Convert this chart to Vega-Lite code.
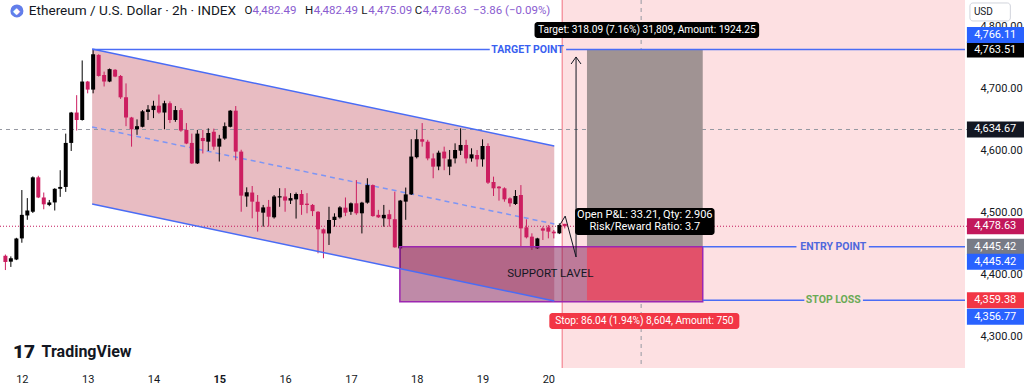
{
"$schema": "https://vega.github.io/schema/vega-lite/v6.json",
"width": 970,
"height": 368,
"autosize": {"type": "none"},
"padding": {"left": 0, "top": 0, "right": 54, "bottom": 20},
"background": "#ffffff",
"config": {"view": {"stroke": null}, "font": "Roboto", "axis": {"grid": false, "domain": false, "ticks": false, "labelColor": "#131722", "labelFontSize": 11}},
"datasets": {
"candles": [
{"t":11.75,"o":4431,"h":4433,"l":4408,"c":4421},
{"t":11.833,"o":4421.5,"h":4430,"l":4413,"c":4427},
{"t":11.917,"o":4425,"h":4460,"l":4424,"c":4459},
{"t":12.0,"o":4459,"h":4537,"l":4452,"c":4497},
{"t":12.083,"o":4496,"h":4524,"l":4489,"c":4504},
{"t":12.167,"o":4502,"h":4559,"l":4500,"c":4557.5},
{"t":12.25,"o":4557.5,"h":4560,"l":4524,"c":4525},
{"t":12.333,"o":4525,"h":4533,"l":4506,"c":4514},
{"t":12.417,"o":4513,"h":4521,"l":4511,"c":4517},
{"t":12.5,"o":4517,"h":4540,"l":4504,"c":4539},
{"t":12.583,"o":4539,"h":4569,"l":4526,"c":4542},
{"t":12.667,"o":4542,"h":4628,"l":4534,"c":4613},
{"t":12.75,"o":4613,"h":4663,"l":4600,"c":4662},
{"t":12.833,"o":4662,"h":4690,"l":4633,"c":4650},
{"t":12.917,"o":4650,"h":4746,"l":4649,"c":4712},
{"t":13.0,"o":4712,"h":4713,"l":4693,"c":4699},
{"t":13.083,"o":4699,"h":4764,"l":4693,"c":4756},
{"t":13.167,"o":4755,"h":4756,"l":4720,"c":4721},
{"t":13.25,"o":4722.5,"h":4728,"l":4704,"c":4712},
{"t":13.333,"o":4712,"h":4733,"l":4711,"c":4732},
{"t":13.417,"o":4731,"h":4732,"l":4719,"c":4720},
{"t":13.5,"o":4721,"h":4722.5,"l":4684,"c":4686.5},
{"t":13.583,"o":4686.5,"h":4709,"l":4640,"c":4654},
{"t":13.667,"o":4654,"h":4655,"l":4607,"c":4635},
{"t":13.75,"o":4635,"h":4651,"l":4626,"c":4640},
{"t":13.833,"o":4639,"h":4666,"l":4638,"c":4664},
{"t":13.917,"o":4663,"h":4674,"l":4650,"c":4667},
{"t":14.0,"o":4666,"h":4681,"l":4653,"c":4673},
{"t":14.083,"o":4673,"h":4691,"l":4660,"c":4662},
{"t":14.167,"o":4662,"h":4681,"l":4635,"c":4677},
{"t":14.25,"o":4677,"h":4680,"l":4645,"c":4650},
{"t":14.333,"o":4650,"h":4672.5,"l":4647,"c":4666},
{"t":14.417,"o":4666,"h":4669,"l":4631,"c":4633},
{"t":14.5,"o":4634,"h":4645,"l":4611,"c":4612},
{"t":14.583,"o":4613,"h":4628,"l":4579,"c":4580},
{"t":14.667,"o":4580,"h":4634,"l":4579,"c":4628},
{"t":14.75,"o":4621,"h":4634,"l":4596,"c":4616},
{"t":14.833,"o":4615,"h":4636.5,"l":4600,"c":4629},
{"t":14.917,"o":4631,"h":4636,"l":4602,"c":4607},
{"t":15.0,"o":4607,"h":4626,"l":4583,"c":4620},
{"t":15.083,"o":4620,"h":4646,"l":4618,"c":4640},
{"t":15.167,"o":4639,"h":4666,"l":4638,"c":4665},
{"t":15.25,"o":4665,"h":4672.5,"l":4585,"c":4599},
{"t":15.333,"o":4599,"h":4602,"l":4502,"c":4528},
{"t":15.417,"o":4526.6,"h":4541.4,"l":4510,"c":4533.4},
{"t":15.5,"o":4533,"h":4543.5,"l":4491.4,"c":4518.3},
{"t":15.583,"o":4518,"h":4529,"l":4470,"c":4502},
{"t":15.667,"o":4500.5,"h":4513,"l":4478,"c":4509},
{"t":15.75,"o":4510,"h":4521,"l":4478,"c":4494},
{"t":15.833,"o":4493,"h":4529,"l":4491,"c":4526.6},
{"t":15.917,"o":4525,"h":4540,"l":4510,"c":4527},
{"t":16.0,"o":4526.6,"h":4540,"l":4502,"c":4520},
{"t":16.083,"o":4520,"h":4532,"l":4514.5,"c":4524},
{"t":16.167,"o":4522,"h":4533,"l":4491,"c":4530.6},
{"t":16.25,"o":4530.6,"h":4537,"l":4497,"c":4513},
{"t":16.333,"o":4515,"h":4532,"l":4499.5,"c":4513},
{"t":16.417,"o":4513,"h":4514.5,"l":4495,"c":4503},
{"t":16.5,"o":4502,"h":4503,"l":4435,"c":4473.7},
{"t":16.583,"o":4473.7,"h":4475,"l":4427,"c":4467},
{"t":16.667,"o":4467,"h":4510,"l":4448.4,"c":4488.7},
{"t":16.75,"o":4488.7,"h":4499.5,"l":4478,"c":4494},
{"t":16.833,"o":4493,"h":4511,"l":4491,"c":4509},
{"t":16.917,"o":4508.6,"h":4525,"l":4495,"c":4500.5},
{"t":17.0,"o":4502,"h":4517,"l":4497,"c":4515.6},
{"t":17.083,"o":4515.6,"h":4553,"l":4497,"c":4499.5},
{"t":17.167,"o":4499.5,"h":4518,"l":4467,"c":4516.7},
{"t":17.25,"o":4516.7,"h":4556,"l":4515,"c":4545},
{"t":17.333,"o":4545,"h":4546,"l":4494,"c":4495},
{"t":17.417,"o":4497,"h":4505,"l":4492,"c":4493},
{"t":17.5,"o":4491.4,"h":4513,"l":4478,"c":4497},
{"t":17.583,"o":4498,"h":4505,"l":4478,"c":4490},
{"t":17.667,"o":4490,"h":4534.4,"l":4444,"c":4444.6},
{"t":17.75,"o":4443,"h":4521,"l":4411,"c":4520},
{"t":17.833,"o":4518.3,"h":4541,"l":4489,"c":4530},
{"t":17.917,"o":4530,"h":4619,"l":4529,"c":4591},
{"t":18.0,"o":4590,"h":4634,"l":4588,"c":4619},
{"t":18.083,"o":4619,"h":4645,"l":4607,"c":4615},
{"t":18.167,"o":4615,"h":4618,"l":4585,"c":4588},
{"t":18.25,"o":4588,"h":4596,"l":4556,"c":4574.7},
{"t":18.333,"o":4575,"h":4600.5,"l":4569,"c":4597.3},
{"t":18.417,"o":4599,"h":4607,"l":4569,"c":4588},
{"t":18.5,"o":4574.7,"h":4601.6,"l":4561,"c":4586.5},
{"t":18.583,"o":4588,"h":4612.3,"l":4580,"c":4601.6},
{"t":18.667,"o":4600.5,"h":4636.5,"l":4593.5,"c":4609.7},
{"t":18.75,"o":4609.7,"h":4618,"l":4580,"c":4588},
{"t":18.833,"o":4588,"h":4604.3,"l":4582.8,"c":4594.6},
{"t":18.917,"o":4593.5,"h":4601.6,"l":4574.7,"c":4586.5},
{"t":19.0,"o":4586.5,"h":4618.8,"l":4574.7,"c":4608},
{"t":19.083,"o":4608,"h":4612.3,"l":4546.8,"c":4548.9},
{"t":19.167,"o":4550,"h":4558.6,"l":4527.4,"c":4539.8},
{"t":19.25,"o":4542.5,"h":4543.5,"l":4519.9,"c":4539.8},
{"t":19.333,"o":4539.8,"h":4541.4,"l":4518.2,"c":4522},
{"t":19.417,"o":4523.6,"h":4525.2,"l":4510.2,"c":4515.6},
{"t":19.5,"o":4514.5,"h":4537,"l":4512.9,"c":4527.4},
{"t":19.583,"o":4529,"h":4545,"l":4445.7,"c":4475.2},
{"t":19.667,"o":4476.9,"h":4489.8,"l":4459,"c":4460.7},
{"t":19.75,"o":4461.8,"h":4467.2,"l":4440.3,"c":4444.6},
{"t":19.833,"o":4443,"h":4460,"l":4442,"c":4459},
{"t":19.917,"o":4475.2,"h":4478,"l":4456.4,"c":4471.5},
{"t":20.0,"o":4476.9,"h":4480.6,"l":4459.1,"c":4469.9},
{"t":20.083,"o":4469.9,"h":4472.6,"l":4459,"c":4467.2},
{"t":20.167,"o":4467.2,"h":4483.3,"l":4466,"c":4480.6},
{"t":20.25,"o":4482.49,"h":4482.49,"l":4475.09,"c":4478.63}
],
"channel": [{"t":13.068,"top":4764.5,"bot":4514.5},{"t":20.09,"top":4608,"bot":4358}],
"mid": [{"t":13.068,"p":4638.7},{"t":20.09,"p":4482.3}],
"blueLines": [
{"g":"chTop","t":13.068,"p":4764.5},{"g":"chTop","t":20.09,"p":4608},
{"g":"chBot","t":13.068,"p":4514.5},{"g":"chBot","t":20.09,"p":4358},
{"g":"tgt1","t":13.068,"p":4763.51},{"g":"tgt1","t":19.11,"p":4763.51},
{"g":"tgt2","t":20.27,"p":4763.51},{"g":"tgt2","t":26.331,"p":4763.51},
{"g":"ent1","t":22.346,"p":4445.42},{"g":"ent1","t":23.77,"p":4445.42},
{"g":"ent2","t":24.87,"p":4445.42},{"g":"ent2","t":26.331,"p":4445.42},
{"g":"stp1","t":22.346,"p":4359.38},{"g":"stp1","t":23.89,"p":4359.38},
{"g":"stp2","t":24.78,"p":4359.38},{"g":"stp2","t":26.331,"p":4359.38}
],
"path": [
{"g":"zig","k":1,"t":20.165,"p":4479},{"g":"zig","k":2,"t":20.256,"p":4495},{"g":"zig","k":3,"t":20.421,"p":4429},{"g":"zig","k":4,"t":20.421,"p":4751.6},
{"g":"head","k":1,"t":20.346,"p":4740.3},{"g":"head","k":2,"t":20.421,"p":4751.6},{"g":"head","k":3,"t":20.496,"p":4740.3}
],
"boxes": [
{"kind":"tgt","t1":19.79,"t2":23.203,"p1":4782.3,"p2":4808.1},
{"kind":"pnl","t1":20.406,"t2":22.526,"p1":4464.5,"p2":4508.1},
{"kind":"stop","t1":20.015,"t2":22.902,"p1":4312.9,"p2":4338.7}
],
"boxText": [
{"txt":"Target: 318.09 (7.16%) 31,809, Amount: 1924.25","kind":"wide","t":21.496,"p":4795.2},
{"txt":"Open P&L: 33.21, Qty: 2.906","kind":"pnl","t":21.466,"p":4496.8},
{"txt":"Risk/Reward Ratio: 3.7","kind":"pnl","t":21.466,"p":4477.4},
{"txt":"Stop: 86.04 (1.94%) 8,604, Amount: 750","kind":"wide","t":21.459,"p":4325.8}
],
"header": [
{"txt":"O","kind":"letter","t":15.383},
{"txt":"4,482.49","kind":"value","t":15.504},
{"txt":"H","kind":"letter","t":16.301},
{"txt":"4,482.49","kind":"value","t":16.436},
{"txt":"L","kind":"letter","t":17.158},
{"txt":"4,475.09","kind":"value","t":17.263},
{"txt":"C","kind":"letter","t":17.97},
{"txt":"4,478.63","kind":"value","t":18.09},
{"txt":"−3.86 (−0.09%)","kind":"value","t":18.857}
],
"tags": [
{"p":4766.11,"kind":"draw","grp":"up"},
{"p":4763.51,"kind":"target","grp":"mid"},
{"p":4634.67,"kind":"cross","grp":"mid"},
{"p":4478.63,"kind":"last","grp":"mid"},
{"p":4445.42,"kind":"entry","grp":"mid"},
{"p":4445.42,"kind":"draw","grp":"down"},
{"p":4359.38,"kind":"stop","grp":"mid"},
{"p":4356.77,"kind":"draw","grp":"down"}
]
},
"layer": [
{"data":{"values":[{}]},"mark":{"type":"rect","color":"#fde0e2"},
 "encoding":{"x":{"datum":20.21,"type":"quantitative","title":null},"x2":{"datum":26.331},"y":{"datum":4250,"type":"quantitative","title":null},"y2":{"datum":4843.5}}},
{"data":{"values":[{}]},"mark":{"type":"rule","color":"#f2707e","strokeWidth":1},
 "encoding":{"x":{"datum":20.21,"type":"quantitative","title":null},"y":{"datum":4250,"type":"quantitative","title":null},"y2":{"datum":4843.5}}},
{"data":{"name":"channel"},"mark":{"type":"area","color":"#e8bcc2","opacity":1},
 "encoding":{"x":{"field":"t","type":"quantitative","title":null},"y":{"field":"top","type":"quantitative","title":null},"y2":{"field":"bot"}}},
{"data":{"values":[{}]},"mark":{"type":"rule","color":"#9598a1","strokeDash":[4,4],"strokeWidth":1},
 "encoding":{"y":{"datum":4634.67,"type":"quantitative","title":null}}},
{"data":{"values":[{}]},"mark":{"type":"rule","color":"#9598a1","strokeDash":[4,4],"strokeWidth":1},
 "encoding":{"x":{"datum":21.41,"type":"quantitative","title":null}}},
{"data":{"values":[{}]},"mark":{"type":"rule","color":"#c2185b","strokeDash":[1,2],"strokeWidth":1},
 "encoding":{"y":{"datum":4478.63,"type":"quantitative","title":null}}},
{"data":{"name":"mid"},"mark":{"type":"line","color":"#7d95f5","strokeDash":[5,4],"strokeWidth":1.5},
 "encoding":{"x":{"field":"t","type":"quantitative","title":null},"y":{"field":"p","type":"quantitative","title":null}}},
{"data":{"name":"candles"},"mark":{"type":"rule","strokeWidth":1},
 "encoding":{
  "x":{"field":"t","type":"quantitative","title":null,"scale":{"domain":[11.744,26.331],"nice":false,"zero":false},
       "axis":{"values":[12,13,14,15,16,17,18,19,20],"format":"d","title":null,"grid":false,"domain":false,"ticks":false,"labelPadding":5,"labelFontSize":11,"labelColor":"#131722","labelFontWeight":{"condition":{"test":"datum.value == 15","value":"bold"},"value":"normal"}}},
  "y":{"field":"l","type":"quantitative","title":null,"scale":{"domain":[4250,4843.5],"nice":false,"zero":false},
       "axis":{"orient":"right","values":[4300,4350,4400,4450,4500,4550,4600,4650,4700,4750,4800],"format":",.2f","title":null,"grid":false,"domain":false,"ticks":false,"labelPadding":10,"labelFontSize":11,"labelColor":"#131722"}},
  "y2":{"field":"h"},
  "color":{"condition":{"test":"datum.c >= datum.o","value":"#000000"},"value":"#cc1e60"}}},
{"data":{"name":"candles"},"mark":{"type":"bar","size":4},
 "encoding":{"x":{"field":"t","type":"quantitative","title":null},"y":{"field":"o","type":"quantitative","title":null},"y2":{"field":"c"},
  "color":{"condition":{"test":"datum.c >= datum.o","value":"#000000"},"value":"#cc1e60"}}},
{"data":{"values":[{}]},"mark":{"type":"rect","color":"#7a0a4a","opacity":0.48},
 "encoding":{"x":{"datum":17.744,"type":"quantitative","title":null},"x2":{"datum":22.346},"y":{"datum":4445.42,"type":"quantitative","title":null},"y2":{"datum":4356.77}}},
{"data":{"values":[{}]},"mark":{"type":"rect","color":"#a09393"},
 "encoding":{"x":{"datum":20.587,"type":"quantitative","title":null},"x2":{"datum":22.346},"y":{"datum":4445.42,"type":"quantitative","title":null},"y2":{"datum":4763.51}}},
{"data":{"values":[{}]},"mark":{"type":"rect","color":"#e2516a"},
 "encoding":{"x":{"datum":20.587,"type":"quantitative","title":null},"x2":{"datum":22.346},"y":{"datum":4359.38,"type":"quantitative","title":null},"y2":{"datum":4445.42}}},
{"data":{"values":[{}]},"mark":{"type":"rect","fill":null,"fillOpacity":0,"stroke":"#9c27b0","strokeWidth":1.5},
 "encoding":{"x":{"datum":17.744,"type":"quantitative","title":null},"x2":{"datum":22.346},"y":{"datum":4445.42,"type":"quantitative","title":null},"y2":{"datum":4356.77}}},
{"data":{"name":"blueLines"},"mark":{"type":"line","color":"#4a6cf5","strokeWidth":1.5},
 "encoding":{"x":{"field":"t","type":"quantitative","title":null},"y":{"field":"p","type":"quantitative","title":null},"detail":{"field":"g","type":"nominal"}}},
{"data":{"name":"path"},"mark":{"type":"line","color":"#131722","strokeWidth":1},
 "encoding":{"x":{"field":"t","type":"quantitative","title":null},"y":{"field":"p","type":"quantitative","title":null},"detail":{"field":"g","type":"nominal"},"order":{"field":"k","type":"quantitative"}}},
{"data":{"name":"boxes"},"mark":{"type":"rect","cornerRadius":3},
 "encoding":{"x":{"field":"t1","type":"quantitative","title":null},"x2":{"field":"t2"},"y":{"field":"p1","type":"quantitative","title":null},"y2":{"field":"p2"},
  "fill":{"field":"kind","type":"nominal","scale":{"domain":["tgt","pnl","stop"],"range":["#000000","#000000","#f23645"]},"legend":null}}},
{"data":{"name":"boxText"},"transform":[{"filter":"datum.kind == 'wide'"}],"mark":{"type":"text","color":"#ffffff","fontSize":10.2,"align":"center","baseline":"middle"},
 "encoding":{"x":{"field":"t","type":"quantitative","title":null},"y":{"field":"p","type":"quantitative","title":null},"text":{"field":"txt"}}},
{"data":{"name":"boxText"},"transform":[{"filter":"datum.kind == 'pnl'"}],"mark":{"type":"text","color":"#ffffff","fontSize":11,"align":"center","baseline":"middle"},
 "encoding":{"x":{"field":"t","type":"quantitative","title":null},"y":{"field":"p","type":"quantitative","title":null},"text":{"field":"txt"}}},
{"data":{"values":[{"txt":"SUPPORT LAVEL"}]},"mark":{"type":"text","color":"#131722","fontSize":11.5,"align":"center","baseline":"middle"},
 "encoding":{"x":{"datum":20.03,"type":"quantitative","title":null},"y":{"datum":4401.6,"type":"quantitative","title":null},"text":{"field":"txt"}}},
{"data":{"values":[{"txt":"TARGET POINT"}]},"mark":{"type":"text","color":"#3a5ff0","fontSize":10.5,"fontWeight":"bold","align":"center","baseline":"middle"},
 "encoding":{"x":{"datum":19.684,"type":"quantitative","title":null},"y":{"datum":4763.51,"type":"quantitative","title":null},"text":{"field":"txt"}}},
{"data":{"values":[{"txt":"ENTRY POINT"}]},"mark":{"type":"text","color":"#5068dd","fontSize":10.5,"fontWeight":"bold","align":"center","baseline":"middle"},
 "encoding":{"x":{"datum":24.33,"type":"quantitative","title":null},"y":{"datum":4445.42,"type":"quantitative","title":null},"text":{"field":"txt"}}},
{"data":{"values":[{"txt":"STOP LOSS"}]},"mark":{"type":"text","color":"#6aaa55","fontSize":10.5,"fontWeight":"bold","align":"center","baseline":"middle"},
 "encoding":{"x":{"datum":24.33,"type":"quantitative","title":null},"y":{"datum":4359.38,"type":"quantitative","title":null},"text":{"field":"txt"}}},
{"data":{"values":[{}]},"mark":{"type":"point","filled":true,"color":"#627eea","size":170,"opacity":1},
 "encoding":{"x":{"datum":11.925,"type":"quantitative","title":null},"y":{"datum":4825.8,"type":"quantitative","title":null}}},
{"data":{"values":[{"txt":"◆"}]},"mark":{"type":"text","color":"#ffffff","fontSize":9,"align":"center","baseline":"middle"},
 "encoding":{"x":{"datum":11.925,"type":"quantitative","title":null},"y":{"datum":4825.8,"type":"quantitative","title":null},"text":{"field":"txt"}}},
{"data":{"values":[{"txt":"Ethereum / U.S. Dollar · 2h · INDEX"}]},"mark":{"type":"text","color":"#131722","fontSize":13.6,"align":"left","baseline":"middle"},
 "encoding":{"x":{"datum":12.105,"type":"quantitative","title":null},"y":{"datum":4825.8,"type":"quantitative","title":null},"text":{"field":"txt"}}},
{"data":{"name":"header"},"mark":{"type":"text","fontSize":11.5,"align":"left","baseline":"middle"},
 "encoding":{"x":{"field":"t","type":"quantitative","title":null},"y":{"datum":4825.8,"type":"quantitative","title":null},"text":{"field":"txt"},
  "color":{"condition":{"test":"datum.kind == 'letter'","value":"#131722"},"value":"#8a5cd0"}}},
{"data":{"values":[{"txt":"17"}]},"mark":{"type":"text","color":"#131722","fontSize":19,"fontWeight":900,"align":"left","baseline":"middle"},
 "encoding":{"x":{"datum":11.865,"type":"quantitative","title":null},"y":{"datum":4275.8,"type":"quantitative","title":null},"text":{"field":"txt"}}},
{"data":{"values":[{"txt":"TradingView"}]},"mark":{"type":"text","color":"#131722","fontSize":16,"fontWeight":"bold","align":"left","baseline":"middle"},
 "encoding":{"x":{"datum":12.3,"type":"quantitative","title":null},"y":{"datum":4275.8,"type":"quantitative","title":null},"text":{"field":"txt"}}},
{"data":{"name":"tags"},"transform":[{"filter":"datum.grp == 'mid'"}],"mark":{"type":"rect","yOffset":-8,"y2Offset":8},
 "encoding":{"x":{"datum":26.36,"type":"quantitative","title":null},"x2":{"datum":27.3},"y":{"field":"p","type":"quantitative","title":null},"y2":{"field":"p"},
  "color":{"field":"kind","type":"nominal","scale":{"domain":["draw","target","cross","last","entry","stop"],"range":["#2962ff","#000000","#131722","#c2185b","#787b86","#f23645"]},"legend":null}}},
{"data":{"name":"tags"},"transform":[{"filter":"datum.grp == 'up'"}],"mark":{"type":"rect","yOffset":-21,"y2Offset":-5},
 "encoding":{"x":{"datum":26.36,"type":"quantitative","title":null},"x2":{"datum":27.3},"y":{"field":"p","type":"quantitative","title":null},"y2":{"field":"p"},
  "color":{"field":"kind","type":"nominal","scale":{"domain":["draw","target","cross","last","entry","stop"],"range":["#2962ff","#000000","#131722","#c2185b","#787b86","#f23645"]},"legend":null}}},
{"data":{"name":"tags"},"transform":[{"filter":"datum.grp == 'down'"}],"mark":{"type":"rect","yOffset":7,"y2Offset":23},
 "encoding":{"x":{"datum":26.36,"type":"quantitative","title":null},"x2":{"datum":27.3},"y":{"field":"p","type":"quantitative","title":null},"y2":{"field":"p"},
  "color":{"field":"kind","type":"nominal","scale":{"domain":["draw","target","cross","last","entry","stop"],"range":["#2962ff","#000000","#131722","#c2185b","#787b86","#f23645"]},"legend":null}}},
{"data":{"name":"tags"},"transform":[{"filter":"datum.grp == 'mid'"}],"mark":{"type":"text","color":"#ffffff","fontSize":11,"align":"left","baseline":"middle"},
 "encoding":{"x":{"datum":26.47,"type":"quantitative","title":null},"y":{"field":"p","type":"quantitative","title":null},"text":{"field":"p","format":",.2f"}}},
{"data":{"name":"tags"},"transform":[{"filter":"datum.grp == 'up'"}],"mark":{"type":"text","color":"#ffffff","fontSize":11,"align":"left","baseline":"middle","dy":-13},
 "encoding":{"x":{"datum":26.47,"type":"quantitative","title":null},"y":{"field":"p","type":"quantitative","title":null},"text":{"field":"p","format":",.2f"}}},
{"data":{"name":"tags"},"transform":[{"filter":"datum.grp == 'down'"}],"mark":{"type":"text","color":"#ffffff","fontSize":11,"align":"left","baseline":"middle","dy":15},
 "encoding":{"x":{"datum":26.47,"type":"quantitative","title":null},"y":{"field":"p","type":"quantitative","title":null},"text":{"field":"p","format":",.2f"}}},
{"data":{"values":[{}]},"mark":{"type":"rect","fill":"#ffffff","stroke":"#d1d4dc","strokeWidth":1,"cornerRadius":3},
 "encoding":{"x":{"datum":26.406,"type":"quantitative","title":null},"x2":{"datum":27.02},"y":{"datum":4838.7,"type":"quantitative","title":null},"y2":{"datum":4809.7}}},
{"data":{"values":[{"txt":"USD"}]},"mark":{"type":"text","color":"#131722","fontSize":10,"align":"left","baseline":"middle"},
 "encoding":{"x":{"datum":26.466,"type":"quantitative","title":null},"y":{"datum":4824.2,"type":"quantitative","title":null},"text":{"field":"txt"}}}
]
}
